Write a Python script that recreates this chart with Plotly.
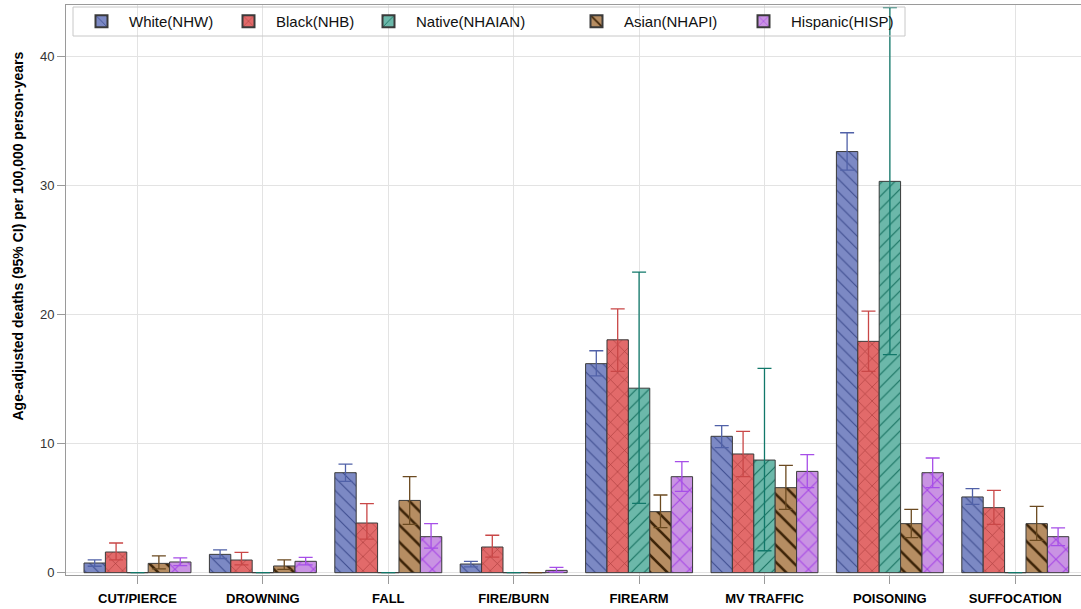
import plotly.graph_objects as go

categories = ["CUT/PIERCE", "DROWNING", "FALL", "FIRE/BURN", "FIREARM", "MV TRAFFIC", "POISONING", "SUFFOCATION"]

series_names = ["White(NHW)", "Black(NHB)", "Native(NHAIAN)", "Asian(NHAPI)", "Hispanic(HISP)"]

white_rate = [0.75, 1.42, 7.75, 0.67, 16.2, 10.57, 32.64, 5.87]
white_low = [0.5, 1.1, 7.08, 0.45, 15.25, 9.7, 31.2, 5.3]
white_high = [1.0, 1.76, 8.42, 0.88, 17.2, 11.4, 34.1, 6.51]

black_rate = [1.6, 0.98, 3.85, 1.99, 18.05, 9.2, 17.93, 5.04]
black_low = [1.0, 0.6, 2.6, 1.2, 15.6, 7.44, 15.6, 3.75]
black_high = [2.3, 1.57, 5.35, 2.9, 20.45, 10.95, 20.28, 6.38]

native_rate = [0.0, 0.0, 0.0, 0.0, 14.3, 8.73, 30.33, 0.0]
native_low = [None, None, None, None, 5.37, 1.7, 16.9, None]
native_high = [None, None, None, None, 23.3, 15.84, 43.8, None]

asian_rate = [0.72, 0.52, 5.6, 0.0, 4.73, 6.59, 3.8, 3.8]
asian_low = [0.3, 0.25, 3.75, None, 3.49, 4.91, 2.71, 2.5]
asian_high = [1.3, 1.0, 7.44, None, 6.02, 8.32, 4.91, 5.14]

hisp_rate = [0.83, 0.88, 2.79, 0.18, 7.44, 7.85, 7.75, 2.79]
hisp_low = [0.55, 0.6, 1.9, 0.05, 6.3, 6.6, 6.6, 2.1]
hisp_high = [1.14, 1.19, 3.8, 0.41, 8.6, 9.15, 8.89, 3.47]

y_ticks = [0, 10, 20, 30, 40]
y_title = "Age-adjusted deaths (95% CI) per 100,000 person-years"

rates = [white_rate, black_rate, native_rate, asian_rate, hisp_rate]
lows = [white_low, black_low, native_low, asian_low, hisp_low]
highs = [white_high, black_high, native_high, asian_high, hisp_high]

fills = ["#7c89c4", "#e26a6a", "#6cb8aa", "#b68d62", "#c993e3"]
lines = ["#3e4d8f", "#a83a3a", "#16705f", "#3d2408", "#a646e6"]
errcols = ["#5061a8", "#c94747", "#11786a", "#6b4a20", "#a64ee8"]
shapes = ["\\", "x", "/", "\\", "x"]
psizes = [9, 10, 9, 12, 14]
psol = [0.12, 0.12, 0.12, 0.22, 0.15]

# layout geometry (pixels)
W, H = 1081, 609
ML, MR, MT, MB = 66, 0, 5, 34
PW, PH = W - ML - MR, H - MT - MB
legend_px = [74, 221, 361, 569, 736]   # left edge of each legend entry


def px_x(p):
    return (p - ML) / PW


def px_y(p):
    return (H - MB - p) / PH


fig = go.Figure()
legend_layout = {}
for i, name in enumerate(series_names):
    r = rates[i]
    up = [None if h is None else h - v for v, h in zip(r, highs[i])]
    dn = [None if l is None else v - l for v, l in zip(r, lows[i])]
    lg = "legend" if i == 0 else "legend%d" % (i + 1)
    fig.add_trace(go.Bar(
        name=name, x=categories, y=r, legend=lg,
        marker=dict(
            color=fills[i],
            line=dict(color="#3a3a3a", width=1),
            pattern=dict(shape=shapes[i], fgcolor=lines[i], bgcolor=fills[i],
                         size=psizes[i], solidity=psol[i], fillmode="replace"),
        ),
        error_y=dict(type="data", symmetric=False, array=up, arrayminus=dn,
                     color=errcols[i], thickness=1.3, width=7),
    ))
    legend_layout[lg] = dict(
        orientation="h", x=px_x(legend_px[i]), y=px_y(21.5),
        xanchor="left", yanchor="middle",
        bgcolor="rgba(0,0,0,0)", borderwidth=0,
        font=dict(size=15, color="#111111"),
        itemwidth=45, itemsizing="constant",
    )

fig.update_layout(
    width=W, height=H,
    margin=dict(l=ML, r=MR, t=MT, b=MB),
    paper_bgcolor="white", plot_bgcolor="white",
    barmode="group", bargap=0.147, bargroupgap=0,
    font=dict(family="Liberation Sans, Arial, sans-serif", size=12, color="#333333"),
    showlegend=True,
    annotations=[dict(text="<b>%s</b>" % y_title, xref="paper", yref="paper",
                      x=px_x(17.5), xanchor="center", y=px_y(236), yanchor="middle",
                      textangle=-90, showarrow=False,
                      font=dict(size=14, color="#000000"))],
    shapes=[dict(type="rect", xref="paper", yref="paper",
                 x0=px_x(73), x1=px_x(905), y0=px_y(36), y1=px_y(7),
                 line=dict(color="#c8c8c8", width=1), fillcolor="rgba(0,0,0,0)",
                 layer="above")],
    **legend_layout,
)
fig.update_xaxes(
    range=[-0.57, 7.524], showgrid=True, gridcolor="#e3e3e3", gridwidth=1,
    showline=True, linecolor="#9a9a9a", mirror=True, linewidth=1,
    ticks="outside", ticklen=8, tickcolor="#9a9a9a", automargin=False,
    ticklabelstandoff=3,
    tickfont=dict(size=13, color="#000000", family="Liberation Sans, Arial, sans-serif"),
    tickvals=categories, ticktext=["<b>%s</b>" % c for c in categories],
)
fig.update_yaxes(
    range=[-0.18, 44.0], tickvals=y_ticks, showgrid=True, gridcolor="#e3e3e3", gridwidth=1,
    showline=True, linecolor="#9a9a9a", mirror=True, linewidth=1, zeroline=False,
    ticks="outside", ticklen=8, tickcolor="#9a9a9a", automargin=False,
    tickfont=dict(size=13, color="#333333"),
)

fig.write_html("out.html", config={"displayModeBar": False},
               post_script="document.body.style.margin='0';")
